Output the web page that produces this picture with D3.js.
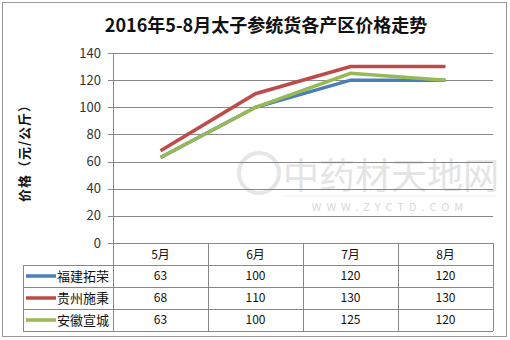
<!DOCTYPE html>
<html>
<head>
<meta charset="utf-8">
<script src="https://cdn.jsdelivr.net/npm/d3@7"></script>
<style>
  body { margin: 0; background: #fff; }
  text { font-family: "Noto Sans CJK SC", "DejaVu Sans", sans-serif; }
</style>
</head>
<body>
<svg id="chart" width="510" height="340"></svg>
<script>
// data
var months = ["5月", "6月", "7月", "8月"];
var seriesNames = ["福建拓荣", "贵州施秉", "安徽宣城"];
var fujian = [63, 100, 120, 120];
var guizhou = [68, 110, 130, 130];
var anhui = [63, 100, 125, 120];
var yTicks = [0, 20, 40, 60, 80, 100, 120, 140];
var colors = ["#4a7ebb", "#be4b48", "#98b954"];

var series = [fujian, guizhou, anhui];

var svg = d3.select("#chart");
// note: plain "top" clashes with window.top
var plotLeft = 113, plotRight = 493, plotTop = 53, plotBottom = 243;
var rowH = 22;

// outer frame
svg.append("rect")
  .attr("x", 2.5).attr("y", 2.5).attr("width", 504).attr("height", 334)
  .attr("fill", "#fff").attr("stroke", "#999").attr("stroke-width", 1);

svg.append("text")
  .attr("x", 266).attr("y", 32)
  .attr("text-anchor", "middle")
  .attr("font-size", 18).attr("font-weight", "bold")
  .attr("fill", "#111")
  .text("2016年5-8月太子参统货各产区价格走势");

var x = d3.scaleBand().domain(months).range([plotLeft, plotRight]);
var y = d3.scaleLinear().domain([0, 140]).range([plotBottom, plotTop]);

// watermark
var wm = svg.append("g");
wm.append("circle").attr("cx", 259).attr("cy", 173).attr("r", 20)
  .attr("fill", "none").attr("stroke", "#e6e6e6").attr("stroke-width", 4);
wm.append("text").attr("x", 391).attr("y", 189).attr("text-anchor", "middle")
  .attr("font-size", 36).attr("fill", "#e4e4e4").text("中药材天地网");
wm.append("line").attr("x1", 283).attr("x2", 497).attr("y1", 196).attr("y2", 196)
  .attr("stroke", "#eee").attr("stroke-width", 1);
wm.append("text").attr("x", 390).attr("y", 211).attr("text-anchor", "middle")
  .attr("font-size", 11).attr("letter-spacing", "5px").attr("fill", "#d8d8d8")
  .text("WWW.ZYCTD.COM");

// gridlines
svg.append("g")
  .selectAll("line").data(yTicks).enter().append("line")
  .attr("x1", plotLeft - 5).attr("x2", plotRight)
  .attr("y1", function(d) { return Math.round(y(d)) + 0.5; })
  .attr("y2", function(d) { return Math.round(y(d)) + 0.5; })
  .attr("stroke", "#888").attr("stroke-width", 1);

svg.append("line")
  .attr("x1", plotLeft + 0.5).attr("x2", plotLeft + 0.5)
  .attr("y1", plotTop).attr("y2", plotBottom + rowH * 4)
  .attr("stroke", "#888");

// y tick labels
svg.append("g")
  .selectAll("text").data(yTicks).enter().append("text")
  .attr("x", 101).attr("y", function(d) { return y(d) + 4.5; })
  .attr("text-anchor", "end")
  .attr("font-size", 13).attr("fill", "#333")
  .text(function(d) { return d; });

// y axis title
svg.append("text")
  .attr("transform", "translate(29,150) rotate(-90)")
  .attr("text-anchor", "middle")
  .attr("font-size", 13).attr("font-weight", "bold").attr("fill", "#111")
  .attr("letter-spacing", "1px")
  .text("价格（元/公斤）");

// lines
var line = d3.line()
  .x(function(d, i) { return x(months[i]) + x.bandwidth() / 2; })
  .y(function(d) { return y(d); });

svg.append("g")
  .selectAll("path").data(series).enter().append("path")
  .attr("d", line)
  .attr("fill", "none")
  .attr("stroke", function(d, i) { return colors[i]; })
  .attr("stroke-width", 3.5);

// data table
var tbl = svg.append("g");
var tblBottom = plotBottom + rowH * 4;

// vertical column lines
months.forEach(function(m) {
  var xx = Math.round(x(m) + x.bandwidth()) + 0.5;
  tbl.append("line").attr("x1", xx).attr("x2", xx)
    .attr("y1", plotBottom).attr("y2", tblBottom).attr("stroke", "#888");
});

// horizontal row lines
[1, 2, 3, 4].forEach(function(r) {
  var yy = plotBottom + rowH * r + 0.5;
  tbl.append("line").attr("x1", 23).attr("x2", plotRight)
    .attr("y1", yy).attr("y2", yy).attr("stroke", "#888");
});
tbl.append("line").attr("x1", 23.5).attr("x2", 23.5)
  .attr("y1", plotBottom + rowH).attr("y2", tblBottom).attr("stroke", "#888");

tbl.selectAll("text.hdr").data(months).enter().append("text")
  .attr("class", "hdr")
  .attr("x", function(d) { return x(d) + x.bandwidth() / 2; })
  .attr("y", plotBottom + 16)
  .attr("text-anchor", "middle").attr("font-size", 12).attr("fill", "#111")
  .text(function(d) { return d; });

series.forEach(function(s, i) {
  var cy = plotBottom + rowH * (i + 1) + rowH / 2;
  tbl.append("line").attr("x1", 26).attr("x2", 56)
    .attr("y1", cy).attr("y2", cy)
    .attr("stroke", colors[i]).attr("stroke-width", 3.5);
  tbl.append("text").attr("x", 57).attr("y", cy + 5)
    .attr("font-size", 13).attr("fill", "#111")
    .text(seriesNames[i]);
  tbl.selectAll(null).data(s).enter().append("text")
    .attr("x", function(d, j) { return x(months[j]) + x.bandwidth() / 2; })
    .attr("y", cy + 4)
    .attr("text-anchor", "middle").attr("font-size", 12).attr("fill", "#111")
    .text(function(d) { return d; });
});
</script>
</body>
</html>
